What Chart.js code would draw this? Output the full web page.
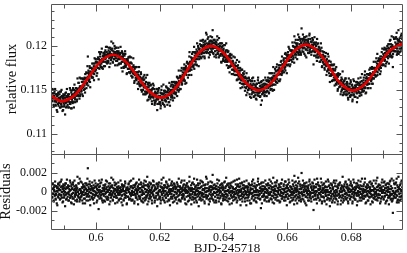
<!DOCTYPE html>
<html>

<head>
  <title>Light curve fit</title>
  <meta charset="UTF-8">
  <script src="https://cdn.jsdelivr.net/npm/chart.js"></script>
  <style type="text/css">
    html, body {
      margin: 0;
      padding: 0;
      background: #fff;
    }
    #chart-container {
      width: 407px;
      height: 253px;
    }
  </style>
</head>

<body>
  <div id="chart-container">
    <canvas id="graphCanvas" width="407" height="253"></canvas>
  </div>

  <script>
    // time axis: first exposure and cadence (days, BJD-245718)
    const startTime = 0.5862;
    const cadence = 0.000125;
    // second, interleaved set of exposures (same cadence, half a step later)
    const startTimeB = 0.58626;

    // measured relative flux, in units of 1e-4 above 0.11
    const flux = [
      46,37,50,40,33,46,42,37,51,33, 38,45,27,43,39,34,47,40,35,45, 30,39,42,34,50,31,37,41,27,43,
      38,33,44,22,41,47,36,31,42,37, 43,30,39,45,36,52,34,42,29,49, 39,45,35,52,42,30,50,47,39,46,
      52,43,48,39,63,48,43,58,47,40, 54,45,63,51,49,59,45,55,63,53, 50,59,64,47,63,58,70,56,63,77,
      88,55,70,68,62,75,53,70,68,75, 65,80,69,64,73,77,68,86,72,76, 82,76,66,81,85,75,81,62,85,74,
      84,91,76,83,80,97,75,88,83,92, 82,87,91,77,95,86,90,81,99,83, 89,81,95,91,76,93,98,87,84,105,
      87,97,89,81,94,91,85,100,88,93, 98,83,89,94,78,91,85,94,80,89, 86,91,99,80,86,82,93,71,88,90,
      75,85,89,80,91,76,83,80,69,84, 83,74,87,78,70,88,74,81,71,66, 80,72,65,76,86,68,70,60,76,70,
      64,76,61,67,63,70,51,67,71,57, 62,54,64,70,50,61,55,63,56,45, 61,53,67,48,56,45,59,52,47,67,
      47,58,39,50,55,43,50,40,56,45, 50,34,45,52,42,55,38,46,35,48, 37,46,42,51,27,46,40,50,43,34,
      43,36,47,32,41,54,38,46,34,45, 41,49,38,31,47,44,37,53,41,47, 52,41,44,51,36,48,32,48,54,42,
      45,59,41,50,53,46,59,41,51,58, 55,47,59,53,43,64,58,53,72,50, 59,66,51,64,72,59,56,65,70,63,
      61,69,79,60,73,69,77,58,72,82, 74,64,80,79,72,93,72,80,76,87, 73,85,80,93,83,78,93,74,89,86,
      93,85,79,91,103,85,92,98,77,96, 91,102,94,87,100,91,106,95,88,100, 104,92,100,86,102,106,96,99,113,93,
      96,101,110,92,103,98,90,106,100,105, 102,93,105,118,97,91,104,98,107,94, 98,105,87,101,98,107,91,99,94,109,
      89,100,96,91,103,81,99,91,100,83, 95,87,101,90,82,93,87,103,82,88, 84,93,75,87,89,83,76,91,82,77,
      86,68,80,82,73,88,73,76,67,78, 72,81,67,71,84,62,72,75,65,68, 72,63,75,52,66,67,57,73,61,57,
      61,68,57,64,49,65,57,52,69,54, 47,58,60,50,63,52,54,42,57,60, 55,45,63,51,48,57,42,52,60,47,
      44,54,50,39,57,52,47,64,43,51, 58,48,42,55,33,53,60,45,52,47, 53,57,47,43,52,64,47,56,52,60,
      49,55,64,52,46,60,63,55,50,69, 58,51,64,62,56,76,61,50,69,66, 61,72,59,76,67,58,72,68,67,78,
      75,60,74,68,82,73,67,88,79,72, 76,84,70,82,80,76,92,79,90,69, 88,83,93,79,88,97,84,89,79,95,
      84,94,91,104,89,85,99,93,111,90, 97,87,103,93,101,85,99,107,92,99, 110,95,98,106,92,103,120,99,94,106,
      98,108,101,91,105,110,96,103,87,107, 102,95,106,104,99,92,114,96,108,99, 93,104,98,109,94,100,79,104,97,94,
      102,94,104,87,96,108,90,87,96,99, 91,82,94,96,87,89,98,76,89,82, 90,93,79,85,73,88,80,92,77,80,
      71,81,91,74,83,69,75,59,78,82, 73,67,78,68,61,72,78,64,67,55, 72,64,57,76,65,59,67,51,69,57,
      58,68,54,58,45,61,64,50,57,71, 51,57,45,60,54,51,63,45,57,50, 59,45,53,39,54,50,47,57,42,61,
      44,50,55,47,39,52,62,45,49,42, 52,42,54,59,47,36,56,50,58,47, 51,57,46,55,64,51,44,60,51,55,
      48,58,64,52,57,71,52,60,47,65, 63,58,52,68,63,57,73,62,69,52, 66,74,62,57,74,70,63,82,67,74,
      67,72,82,72,66,80,91,70,79,75, 85,76,81,68,85,75,85,93,83,79, 85,91,78,89,98,84,88,96,80,94,
      88,100,94,86,98,80,102,94,91,107, 99,89,111,95,88,76,99,95,108,98, 94,104,100,110,98,90,108,103,94,118,
      107,100,93,105,110,97,103,114,98,101
    ];
    const fluxB = [
      38,51,41,46,31,43,48,37,40,32, 45,36,40,25,44,46,32,41,36,48, 40,30,48,33,37,43,26,40,45,35,
      31,41,37,46,35,30,43,51,37,33, 45,37,30,42,40,34,50,36,47,29, 44,37,50,41,36,45,56,41,36,49,
      45,52,37,51,48,44,58,43,52,64, 43,54,53,48,63,52,59,43,62,56, 62,55,51,68,59,63,52,69,58,65,
      62,72,60,66,77,59,71,67,75,64, 74,64,73,69,80,61,75,80,71,85, 73,82,77,69,81,87,75,80,93,79,
      88,78,83,93,76,85,82,74,89,89, 77,89,93,85,82,99,88,93,80,90, 91,83,98,86,93,88,80,96,91,86,
      95,88,82,103,90,85,93,97,78,92, 86,98,90,83,92,88,98,79,92,85, 87,80,92,88,75,94,82,86,91,76,
      91,82,77,94,82,78,85,68,82,85, 74,81,87,70,80,76,69,81,87,71, 75,64,76,69,78,71,58,74,67,76,
      62,70,76,65,57,70,66,59,76,55, 65,56,60,68,56,48,63,58,50,65, 53,62,45,57,53,64,48,46,53,38,
      56,49,53,42,58,45,47,55,42,48, 37,51,43,57,41,45,51,33,46,37, 46,39,51,41,34,48,39,42,52,36,
      34,43,29,46,50,39,45,35,42,56, 46,33,43,49,39,37,54,42,48,33, 40,50,36,47,58,44,46,39,50,56,
      49,43,56,38,53,55,48,59,46,52, 45,57,52,65,50,57,63,48,60,56, 64,59,51,65,62,75,57,67,61,73,
      63,75,61,70,57,75,73,67,81,72, 80,71,75,67,88,75,82,73,81,67, 83,91,77,86,76,84,99,83,79,92,
      82,89,96,78,94,88,100,88,92,85, 97,88,106,93,86,101,93,98,107,92, 95,101,88,105,98,93,115,92,103,100,
      108,96,101,87,105,102,93,111,97,106, 95,110,98,103,92,107,99,88,103,98, 102,90,104,95,111,92,98,102,87,98,
      95,103,89,95,82,98,103,89,95,85, 97,88,83,101,91,84,95,86,78,95, 82,88,94,77,84,70,87,89,78,82,
      90,73,78,83,68,80,76,71,87,72, 67,77,73,61,77,67,78,68,62,82, 69,58,72,65,61,73,61,53,66,69,
      56,64,71,53,60,57,63,44,57,63, 60,50,55,64,52,45,61,55,52,41, 50,60,47,55,64,47,51,43,56,51,
      55,40,52,57,47,44,61,50,46,58, 47,54,43,51,59,49,38,56,54,46, 61,49,55,44,57,52,48,61,43,56,
      48,61,54,59,47,69,54,57,63,51, 61,55,69,49,63,66,56,63,61,74, 56,66,71,63,79,62,68,73,60,72,
      78,68,62,78,73,83,71,69,79,76, 76,86,81,74,91,72,86,82,78,90, 85,78,90,99,83,89,77,95,89,87,
      95,89,82,95,100,87,94,81,104,99, 91,107,96,90,99,103,93,113,96,90, 102,93,108,99,90,104,100,108,97,113,
      93,103,110,98,107,89,102,96,111,100, 105,98,92,108,102,112,94,100,98,105, 90,105,101,94,107,97,102,89,110,93,
      97,89,100,95,83,102,91,103,87,94, 98,89,82,94,103,84,89,77,94,85, 81,88,93,75,83,88,78,83,67,85,
      81,72,78,88,73,83,66,78,72,66, 68,79,60,73,74,67,61,79,68,61, 74,62,66,56,63,68,49,65,58,67,
      53,60,68,54,60,48,56,62,52,44, 59,47,56,61,51,48,63,51,44,55, 48,57,41,52,63,46,53,43,50,59,
      51,44,56,37,53,50,44,60,48,55, 42,53,49,56,46,59,41,52,63,48, 55,43,52,59,51,47,56,68,49,55,
      54,61,49,58,67,53,46,63,59,56, 68,56,62,52,67,63,57,67,75,63, 60,68,76,64,57,75,70,63,75,70,
      75,65,73,86,71,77,67,83,75,86, 73,83,77,88,71,83,88,78,97,85, 87,79,96,86,83,92,77,97,91,88,
      82,97,92,102,89,97,88,106,93,88, 102,94,87,101,99,91,110,98,94,108, 98,109,94,102,115,97,92,106,102,91,
      105,97,109,101,94,112,104,98,108,96
    ];

    // residuals (data - model), in units of 1e-4
    const residuals = [
      3,-6,8,-2,-9,5,1,-4,11,-7, -1,6,-12,4,0,-5,9,2,-3,7, -8,2,5,-3,13,-6,0,4,-10,6,
      1,-4,7,-15,3,9,-2,-7,4,-1, 5,-9,0,6,-3,12,-6,2,-11,8, -2,4,-7,10,-1,-13,6,3,-5,1,
      7,-3,2,-8,16,0,-5,9,-2,-10, 3,-6,11,-1,-4,5,-9,0,8,-3, -7,2,6,-12,4,-2,9,-5,1,14,
      25,-9,5,3,-4,8,-14,2,-1,6, -5,10,-2,-8,1,4,-6,12,-3,0, 6,-1,-11,3,7,-4,2,-18,5,-7,
      2,9,-6,0,-3,13,-9,4,-2,7, -4,1,5,-10,8,-1,3,-7,11,-5, 0,-8,6,2,-13,4,9,-3,-6,15,
      -3,7,-1,-9,4,1,-5,10,-2,3, 8,-6,0,5,-11,2,-3,6,-8,1, -2,4,12,-7,0,-4,7,-14,3,5,
      -9,1,6,-3,9,-6,2,-1,-12,4, 3,-5,8,0,-7,11,-2,5,-4,-9, 6,-1,-8,4,14,-3,0,-10,7,2,
      -4,9,-6,1,-2,5,-13,3,8,-5, 0,-7,4,10,-9,2,-3,6,-1,-11, 5,-2,12,-6,3,-8,7,0,-4,16,
      -3,8,-10,1,6,-5,2,-7,9,-1, 4,-12,0,7,-3,11,-6,2,-9,5, -6,3,-1,9,-15,4,-2,8,1,-7,
      2,-5,6,-9,0,13,-3,5,-8,3, -1,7,-4,-11,5,1,-6,10,-2,4, 8,-3,0,6,-9,3,-14,2,7,-5,
      -2,11,-7,1,4,-4,9,-10,0,6, 3,-6,5,-1,-12,8,2,-4,14,-8, 0,6,-9,3,10,-3,-7,1,5,-2,
      -5,2,12,-8,4,-1,7,-13,0,9, 1,-10,5,3,-4,16,-6,2,-3,7, -8,4,-2,10,0,-6,8,-11,3,-1,
      6,-3,-9,2,13,-5,1,7,-15,4, -2,9,0,-7,5,-4,11,-1,-8,3, 7,-5,2,-12,4,8,-3,0,14,-6,
      -4,1,10,-8,3,-2,-10,6,0,5, 2,-7,5,18,-3,-9,4,-1,8,-5, -1,6,-11,3,0,9,-6,2,-3,12,
      -7,4,1,-4,8,-13,5,-2,7,-9, 3,-5,10,0,-8,4,-2,15,-6,1, -3,7,-10,2,5,-1,-7,9,0,-4,
      6,-12,1,4,-5,11,-3,0,-8,3, -2,8,-6,-1,13,-9,2,6,-4,0, 5,-4,9,-14,1,3,-7,10,-2,-5,
      0,7,-3,4,-10,6,-1,-6,12,-3, -9,2,5,-5,8,-2,0,-12,4,7, 3,-7,11,-1,-4,6,-9,1,9,-3,
      -6,4,0,-11,7,2,-3,14,-7,1, 8,-2,-8,5,-17,3,10,-5,1,-4, 2,6,-4,-9,0,12,-6,3,-1,7,
      -5,1,9,-3,-10,4,7,-2,-7,11, 0,-8,5,2,-4,15,-1,-12,6,3, -3,7,-6,10,1,-9,4,0,-2,8,
      5,-11,2,-4,9,-1,-7,13,3,-5, -1,6,-9,3,0,-5,11,-3,7,-14, 4,-2,8,-7,2,10,-4,1,-10,5,
      -6,3,0,12,-3,-8,6,-1,17,-5, 2,-9,7,-3,4,-12,1,9,-6,0, 11,-4,-1,6,-8,3,20,-2,-7,5,
      -3,7,0,-10,4,9,-5,2,-14,6, 1,-6,5,3,-2,-9,13,-4,8,-1, -7,4,-1,10,-5,2,-19,6,0,-3,
      5,-2,8,-8,1,14,-4,-6,3,7, -1,-9,3,6,-3,0,10,-12,2,-5, 4,8,-6,1,-10,5,-2,11,-4,0,
      -8,2,13,-3,6,-7,0,-15,4,9, 1,-5,7,-2,-9,3,10,-4,0,-11, 6,-1,-7,12,2,-4,5,-10,8,-3,
      -2,9,-5,0,-13,4,7,-6,1,16, -4,3,-9,6,1,-2,10,-7,5,-1, 8,-6,2,-12,4,0,-3,7,-8,11,
      -5,1,6,-2,-10,3,13,-4,0,-7, 2,-8,4,9,-3,-14,5,-1,7,-4, 0,5,-6,3,11,-2,-9,6,-3,1,
      -7,3,8,-4,0,14,-5,2,-11,6, 4,-2,-9,7,1,-5,10,-1,5,-13, 1,8,-4,-10,6,2,-6,12,-3,3,
      -5,0,9,-2,-8,5,15,-6,2,-3, 7,-3,1,-12,4,-7,3,10,-1,-5, 0,6,-8,2,11,-4,-1,7,-10,4,
      -3,9,2,-6,5,-13,8,0,-4,12, 3,-7,14,-2,-9,-22,1,-4,9,-1, -6,4,0,10,-3,-11,7,2,-8,16,
      5,-2,-9,3,8,-5,1,12,-4,-1
    ];
    const residualsB = [
      -5,9,-1,4,-10,2,7,-3,0,-8, 6,-3,1,-14,5,8,-6,3,-2,10, 2,-7,11,-4,0,6,-11,3,8,-2,
      -6,4,0,9,-3,-8,5,13,-1,-5, 7,-2,-9,3,1,-6,10,-4,6,-12, 3,-5,8,-1,-7,2,12,-3,-9,4,
      -1,6,-10,4,0,-4,9,-6,2,14, -8,3,1,-5,10,-2,4,-12,6,0, 5,-3,-7,9,-1,3,-9,7,-4,2,
      -2,8,-5,0,11,-8,3,-1,6,-6, 4,-7,2,-3,7,-12,1,5,-4,9, -3,5,-1,-9,2,8,-5,0,12,-2,
      6,-4,0,10,-7,1,-2,-11,4,3, -9,3,7,-2,-5,12,0,5,-8,1, 2,-6,9,-3,4,-1,-10,6,1,-4,
      5,-2,-8,13,0,-5,3,7,-12,2, -4,9,1,-6,3,-1,10,-9,4,-3, 0,-7,5,2,-11,8,-3,1,6,-8,
      7,-2,-6,11,0,-4,4,-13,2,5, -5,2,9,-8,3,-1,-7,6,12,-3, 1,-9,4,-3,7,0,-12,5,-2,8,
      -6,3,10,-1,-8,6,2,-4,13,-7, 4,-5,0,8,-3,-10,5,1,-7,9, -2,7,-9,3,0,11,-4,-6,2,-13,
      6,-1,4,-7,10,-3,0,8,-5,2, -9,5,-2,12,-4,1,7,-11,3,-6, 3,-4,8,-1,-8,6,-3,0,10,-5,
      -7,2,-12,5,9,-2,4,-6,1,15, 4,-9,1,7,-3,-6,11,-1,5,-10, -4,6,-8,2,13,-2,0,-7,3,9,
      1,-5,7,-11,3,5,-3,8,-6,0, -8,4,-2,10,-5,1,6,-9,2,-3, 5,-1,-10,4,0,12,-6,3,-4,7,
      -3,8,-7,1,-12,5,2,-5,9,-1, 6,-4,0,-9,11,-2,4,-6,1,-13, 2,9,-5,3,-8,0,14,-3,-7,5,
      -6,1,7,-11,4,-2,9,-4,0,-8, 4,-6,12,-1,-9,6,-3,2,10,-5, -2,3,-10,7,0,-5,16,-7,4,1,
      8,-4,1,-13,5,2,-7,11,-3,6, -5,10,-2,3,-8,7,0,-11,4,-1, 3,-9,6,-3,13,-6,1,5,-10,2,
      -1,7,-6,0,-12,4,9,-4,2,-7, 5,-3,-8,11,1,-5,6,-2,-9,8, -4,2,9,-7,0,-13,4,7,-3,1,
      10,-6,-1,5,-9,3,0,-5,12,-2, -7,4,1,-11,6,-3,8,-1,-6,14, 2,-8,6,0,-4,9,-2,-10,4,7,
      -5,3,11,-7,1,-2,5,-14,0,6, 4,-6,0,9,-3,-9,7,2,-1,-12, -2,8,-5,3,13,-4,0,-8,6,1,
      5,-10,2,7,-3,-6,11,0,-4,8, -3,4,-7,1,9,-1,-12,6,3,-5, 10,-2,3,-8,5,0,-5,8,-10,2,
      -6,7,-1,4,-9,13,-3,0,6,-7, 3,-4,9,-11,2,5,-6,1,-2,10, -8,1,6,-3,12,-5,0,4,-9,2,
      7,-3,-10,5,0,9,-4,-7,3,-1, -2,8,2,-6,11,-9,4,0,-5,6, 1,-7,4,13,-4,2,-11,6,0,-3,
      5,-2,-9,3,8,-6,1,-13,10,4, -4,11,0,-7,2,6,-5,15,-2,-9, 3,-6,8,-1,-10,4,0,7,-4,12,
      -8,2,9,-3,6,-12,1,-5,10,-1, 4,-3,-9,7,1,11,-6,0,-2,5, -10,6,2,-5,9,-1,4,-8,13,-4,
      1,-7,5,0,-12,8,-3,10,-6,2, 6,-2,-8,4,14,-5,1,-10,7,-1, -5,3,9,-9,0,6,-4,2,-13,5,
      2,-6,0,11,-3,7,-9,4,-1,-7, -4,8,-11,3,5,-2,-7,12,1,-5, 9,-3,2,-8,0,6,-13,4,-2,7,
      -6,1,10,-4,3,-9,0,6,-3,-11, 5,-7,2,8,-2,-5,11,-1,-8,4, -3,6,-10,1,13,-4,3,-7,0,9,
      2,-5,7,-12,4,0,-6,10,-2,5, -8,3,-1,6,-4,9,-10,1,12,-3, 4,-9,0,7,-2,-6,3,14,-5,1,
      -1,6,-7,2,10,-4,-12,5,0,-3, 8,-4,1,-9,5,0,-6,3,11,-2, -5,2,9,-3,-11,6,1,-7,4,-1,
      3,-8,0,12,-4,2,-9,6,-2,8, -6,4,-3,7,-10,1,5,-5,13,0, 2,-7,10,-1,-5,4,-12,8,1,-3,
      -9,5,0,9,-4,3,-6,11,-2,-8, 6,-3,-10,4,1,-7,12,-1,-5,8, -2,9,-6,1,14,-4,-9,5,0,-11,
      3,-5,7,-1,-8,10,2,-4,5,-7
    ];

    // fitted model curve
    const modelTime = [0.5859, 0.5878, 0.5897, 0.5936, 0.5975, 0.6014, 0.6053, 0.6091, 0.6129, 0.6167,
      0.6205, 0.6244, 0.6283, 0.6321, 0.6360, 0.6398, 0.6435, 0.6473, 0.6510, 0.6547, 0.6584, 0.6621,
      0.6658, 0.6695, 0.6732, 0.6768, 0.6805, 0.6844, 0.6883, 0.6921, 0.6960, 0.6963];
    const modelFlux = [0.11435, 0.11390, 0.11370, 0.11448, 0.11635, 0.11822, 0.11900, 0.11829, 0.11656, 0.11483,
      0.11412, 0.11498, 0.11707, 0.11916, 0.12002, 0.11928, 0.11749, 0.11569, 0.11495, 0.11571, 0.11755, 0.11939,
      0.12015, 0.11938, 0.11754, 0.11569, 0.11492, 0.11570, 0.11759, 0.11947, 0.12025, 0.12025];

    // ticks
    const xTicks = [0.6, 0.62, 0.64, 0.66, 0.68];
    const xMinorTicks = [0.59, 0.61, 0.63, 0.65, 0.67, 0.69];
    const fluxTicks = [0.11, 0.115, 0.12];
    const fluxMinorTicks = [0.108, 0.109, 0.111, 0.112, 0.113, 0.114, 0.116, 0.117, 0.118, 0.119,
      0.121, 0.122, 0.123, 0.124];
    const residTicks = [-0.002, 0, 0.002];
    const residMinorTicks = [-0.003, -0.001, 0.001, 0.003];

    const toPoints = (vals, t0, base) => vals.map((v, i) => ({ x: t0 + i * cadence, y: base + v / 1e4 }));
    const fluxPoints = toPoints(flux, startTime, 0.11).concat(toPoints(fluxB, startTimeB, 0.11));
    const residPoints = toPoints(residuals, startTime, 0).concat(toPoints(residualsB, startTimeB, 0));
    const modelPoints = modelTime.map((t, i) => ({ x: t, y: modelFlux[i] }));

    // frame + inward ticks on both panels
    const panelFrame = {
      id: 'panelFrame',
      afterDatasetsDraw(chart) {
        const ctx = chart.ctx;
        const x = chart.scales.x;
        const L = Math.round(x.left) + 0.5;
        const R = Math.round(x.right) - 0.5;
        ctx.save();
        ctx.strokeStyle = '#555';
        ctx.lineWidth = 1;
        [['y', fluxTicks, fluxMinorTicks], ['y2', residTicks, residMinorTicks]].forEach(function(p) {
          const s = chart.scales[p[0]];
          const T = Math.round(s.top) + 0.5;
          const B = Math.round(s.bottom) + 0.5;
          ctx.beginPath();
          ctx.rect(L, T, R - L, B - T);
          const xt = (v, len) => {
            const px = Math.round(x.getPixelForValue(v)) + 0.5;
            ctx.moveTo(px, T); ctx.lineTo(px, T + len);
            ctx.moveTo(px, B); ctx.lineTo(px, B - len);
          };
          xTicks.forEach(v => xt(v, 7));
          xMinorTicks.forEach(v => xt(v, 4));
          const yt = (v, len) => {
            const py = Math.round(s.getPixelForValue(v)) + 0.5;
            ctx.moveTo(L, py); ctx.lineTo(L + len, py);
            ctx.moveTo(R, py); ctx.lineTo(R - len, py);
          };
          p[1].forEach(v => yt(v, 6));
          p[2].forEach(v => yt(v, 3));
          ctx.stroke();
        });
        ctx.restore();
      }
    };

    Chart.defaults.font.family = '"Liberation Serif", "Times New Roman", serif';
    Chart.defaults.color = '#111';

    const fmt = v => String(+Number(v).toFixed(4));
    // y axes: fixed width, and no extra room for half-labels at the panel edges
    const fitY = s => { s.width = 51; s.paddingTop = 0; s.paddingBottom = 0; };

    new Chart(document.getElementById('graphCanvas'), {
      type: 'scatter',
      data: {
        datasets: [{
          type: 'line',
          data: modelPoints,
          yAxisID: 'y',
          borderColor: '#e00000',
          borderWidth: 2.7,
          pointRadius: 0,
          tension: 0.4,
          fill: false,
          order: 0
        }, {
          data: fluxPoints,
          yAxisID: 'y',
          pointStyle: 'rect',
          pointRadius: 1.55,
          backgroundColor: '#111',
          borderWidth: 0,
          order: 1
        }, {
          data: residPoints,
          yAxisID: 'y2',
          pointStyle: 'rect',
          pointRadius: 1.55,
          backgroundColor: '#111',
          borderWidth: 0,
          order: 1
        }]
      },
      options: {
        responsive: false,
        animation: false,
        devicePixelRatio: 1,
        events: [],
        layout: { padding: { top: 1, right: 3, left: 0, bottom: 0 } },
        plugins: { legend: { display: false }, tooltip: { enabled: false } },
        scales: {
          x: {
            type: 'linear',
            min: 0.5859,
            max: 0.69625,
            grid: { display: false, drawTicks: false },
            border: { display: false },
            afterBuildTicks: s => { s.ticks = xTicks.map(v => ({ value: v })); },
            afterFit: s => { s.height = 24; },
            ticks: { padding: 2, maxRotation: 0, autoSkip: false, font: { size: 12 }, callback: fmt },
            title: { display: true, text: 'BJD-245718', font: { size: 13, lineHeight: 1 }, padding: { top: 0, bottom: -2.5 } }
          },
          y2: {
            type: 'linear',
            position: 'left',
            stack: 'panels',
            stackWeight: 1,
            min: -0.0039,
            max: 0.0040,
            grid: { display: false, drawTicks: false },
            border: { display: false },
            afterBuildTicks: s => { s.ticks = residTicks.map(v => ({ value: v })); },
            afterFit: fitY,
            ticks: { padding: 4, font: { size: 12 }, callback: fmt },
            title: { display: true, text: 'Residuals', font: { size: 14.5, lineHeight: 1 }, padding: { top: -1, bottom: 0 } }
          },
          y: {
            type: 'linear',
            position: 'left',
            stack: 'panels',
            stackWeight: 2,
            min: 0.1077,
            max: 0.12478,
            grid: { display: false, drawTicks: false },
            border: { display: false },
            afterBuildTicks: s => { s.ticks = fluxTicks.map(v => ({ value: v })); },
            afterFit: fitY,
            ticks: { padding: 4, font: { size: 12 }, callback: fmt },
            title: { display: true, text: 'relative flux', font: { size: 14.5, lineHeight: 1 }, padding: { top: 5, bottom: 0 } }
          }
        }
      },
      plugins: [panelFrame]
    });
  </script>

</body>

</html>
